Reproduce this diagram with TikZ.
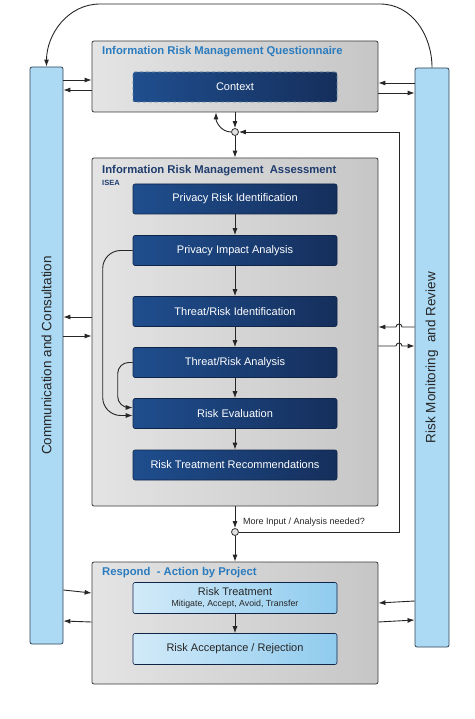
\documentclass[tikz,border=0pt]{standalone}
\usepackage{fontspec}
\setmainfont{Liberation Sans}
\usepackage{graphicx}
\usetikzlibrary{arrows.meta}

\definecolor{panelline}{HTML}{3A3A3A}
\definecolor{panellight}{HTML}{E4E4E4}
\definecolor{paneldark}{HTML}{C6C6C6}
\definecolor{darkleft}{HTML}{1F4E8E}
\definecolor{darkright}{HTML}{152F5C}
\definecolor{darkline}{HTML}{0F2447}
\definecolor{paleleft}{HTML}{D2EAF9}
\definecolor{paleright}{HTML}{8FCBEE}
\definecolor{barfill}{HTML}{ACD9F4}
\definecolor{barline}{HTML}{2E4455}
\definecolor{titleblue}{HTML}{2B7CBF}
\definecolor{titlenavy}{HTML}{1F3C6E}

\tikzset{
  panel/.style={draw=panelline, line width=0.8pt, rounded corners=2pt,
    left color=panellight, right color=paneldark, minimum width=286},
  darkbox/.style={draw=darkline, line width=0.6pt, rounded corners=2pt,
    left color=darkleft, right color=darkright, text=white,
    minimum width=204, minimum height=30, font=\fontsize{11}{13}\selectfont},
  palebox/.style={draw=darkline, line width=0.6pt, rounded corners=2pt,
    left color=paleleft, right color=paleright, text=black!85,
    minimum width=204, minimum height=31, align=center, inner sep=1pt},
  sidebar/.style={draw=barline, line width=0.8pt, rounded corners=2pt,
    fill=barfill, text=black!85, minimum width=33,
    font=\fontsize{13.5}{16}\selectfont},
  paneltitle/.style={anchor=west, inner sep=0pt, font=\bfseries\fontsize{11.3}{13}\selectfont},
  junction/.style={circle, draw=black!80, fill=black!12, line width=0.8pt,
    minimum size=7, inner sep=0pt},
  link/.style={->, line width=0.9pt, black!85},
}

\begin{document}
\begin{tikzpicture}[x={(1pt,0)},y={(0,1pt)},>={Latex[length=7pt,width=5pt]}]
\useasboundingbox (0,0) rectangle (474,-719);

% side bars
\node[sidebar, minimum height=577] (comm) at (46.5,-355.5)
  {\rotatebox{90}{Communication and Consultation}};
\node[sidebar, minimum width=34, minimum height=579] (monitor) at (432,-357.5)
  {\rotatebox{90}{Risk Monitoring\ \ and Review}};

% questionnaire
\node[panel, minimum height=71] (quest) at (235,-76.5) {};
\node[paneltitle, text=titleblue] (questtitle) at (102,-52) {Information Risk Management Questionnaire};
\node[darkbox, dashed, draw=black!35!paleright] (context) at (235,-87) {Context};

% assessment
\node[panel, minimum height=348] (assess) at (235,-332) {};
\node[paneltitle, text=titlenavy] (assesstitle) at (102,-170.5) {Information Risk Management\ \ Assessment};
\node[paneltitle, text=titlenavy, font=\bfseries\fontsize{7.5}{9}\selectfont] (isea) at (102,-182.5) {ISEA};
\node[darkbox] (privrisk) at (235,-199) {Privacy Risk Identification};
\node[darkbox] (privimpact) at (235,-250.5) {Privacy Impact Analysis};
\node[darkbox] (thrident) at (235,-311.5) {Threat/Risk Identification};
\node[darkbox] (thranal) at (235,-362.5) {Threat/Risk Analysis};
\node[darkbox] (riskeval) at (235,-413.5) {Risk Evaluation};
\node[darkbox] (riskrec) at (235,-465) {Risk Treatment Recommendations};

% respond
\node[panel, minimum height=122] (respond) at (235,-623) {};
\node[paneltitle, text=titleblue] (respondtitle) at (102,-573) {Respond\ \ - Action by Project};
\node[palebox] (treat) at (235,-598)
  {{\fontsize{11}{12.5}\selectfont Risk Treatment}\\[-1pt]{\fontsize{8.8}{10}\selectfont Mitigate, Accept, Avoid, Transfer}};
\node[palebox, font=\fontsize{11}{13}\selectfont] (accept) at (235,-649) {Risk Acceptance / Rejection};

% junctions
\node[junction] (jtop) at (235,-132) {};
\node[junction] (jbot) at (235,-532) {};
\node[anchor=west, inner sep=0pt, font=\fontsize{9}{11}\selectfont, text=black!85] (morelabel) at (243,-522) {More Input / Analysis needed?};
\coordinate (loop) at (399,-132);

% flow
\draw[link] (quest.south) -- (jtop);
\draw[link] (jtop) -- (assess.north);
\draw[link] (jtop.west) to[out=180,in=-90] ([xshift=-19pt]quest.south);
\foreach \a/\b in {privrisk/privimpact, privimpact/thrident, thrident/thranal,
  thranal/riskeval, riskeval/riskrec, treat/accept}
  \draw[link] (\a) -- (\b);
\draw[link, rounded corners=18pt] (privimpact.west) -| ([xshift=-30pt,yshift=-2pt]riskeval.west) -- ([yshift=-2pt]riskeval.west);
\draw[link, rounded corners=11pt] (thranal.west) -| ([xshift=-15pt,yshift=6pt]riskeval.west) -- ([yshift=6pt]riskeval.west);
\draw[link] (assess.south) -- (jbot);
\draw[link] (jbot) -- (respond.north);
\draw[link] (jbot.east) -| (loop) -- (jtop.east);

% bars to panels
\draw[link] (comm.east |- 0,-80) -- (quest.west |- 0,-80);
\draw[link] (quest.west |- 0,-90) -- (comm.east |- 0,-90);
\draw[link] (monitor.west |- 0,-83) -- (quest.east |- 0,-83);
\draw[link] (quest.east |- 0,-93) -- (monitor.west |- 0,-93);
\draw[link] (assess.west |- 0,-317) -- (comm.east |- 0,-317);
\draw[link] (comm.east |- 0,-336) -- (assess.west |- 0,-336);
\draw[link] (monitor.west |- 0,-327) -- (402,-327) arc[start angle=0,end angle=180,radius=3] -- (assess.east |- 0,-327);
\draw[link] (assess.east |- 0,-346) -- (396,-346) arc[start angle=180,end angle=0,radius=3] -- (monitor.west |- 0,-346);
\draw[link] (comm.east |- 0,-590) -- (respond.west |- 0,-593);
\draw[link] (respond.west |- 0,-622) -- (comm.east |- 0,-621);
\draw[link] (monitor.west |- 0,-601) -- (respond.east |- 0,-603);
\draw[link] (respond.east |- 0,-622) -- (monitor.west |- 0,-620);

% top loop
\draw[link] (monitor.north) to[out=90,in=0] (380,-4) -- (100,-4) to[out=180,in=90] (comm.north);
\end{tikzpicture}
\end{document}
